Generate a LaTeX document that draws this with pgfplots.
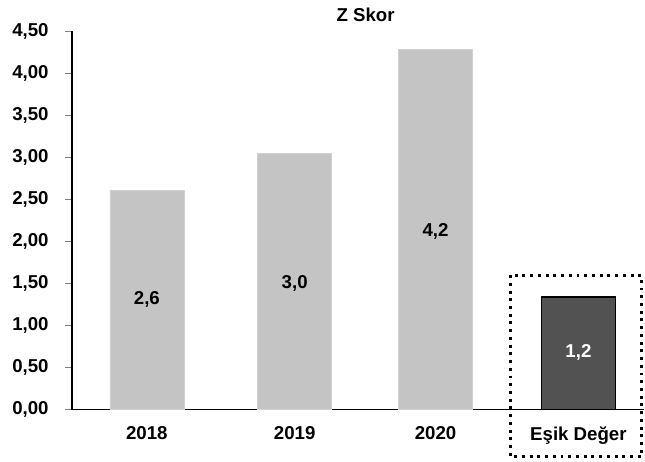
\documentclass[border=0pt]{standalone}
\usepackage{pgfplots}
\pgfplotsset{compat=1.18}
\usepackage{fontspec}
\setmainfont{Liberation Sans}
\newcommand{\lf}{\fontsize{14}{16}\selectfont\bfseries}
\begin{document}
\begin{tikzpicture}
\begin{axis}[
  scale only axis,
  width=429.75pt, height=284.25pt,
  xmin=72, xmax=645, ymin=0, ymax=4.5,
  axis x line=bottom, axis y line=left,
  axis line style={-, line width=1pt},
  clip=false,
  ytick={0,0.5,...,4.5},
  yticklabel style={font=\lf, xshift=-9pt, /pgf/number format/.cd, fixed, fixed zerofill, precision=2, use comma, assume math mode=true},
  ytick style={line width=0.8pt},
  major tick length=5pt,
  tick align=outside,
  xtick={147,295,436,579},
  xticklabels={2018,2019,2020,Eşik Değer},
  xticklabel style={font=\lf, yshift=-4pt},
  xtick style={draw=none},
  extra x ticks={221,367,508},
  extra x tick labels={},
  extra x tick style={tick style={draw=black, line width=0.8pt}, major tick length=4pt},
  ybar, bar width=55.5pt,
]
\path (axis cs:0,4.87) rectangle (axis cs:645,-0.618);
\addplot[fill=black!23, draw=black!18, bar shift=0pt] coordinates {(147,2.61) (295,3.05) (436,4.28)};
\addplot[fill=black!68, draw=black, bar shift=0pt, line width=1pt] coordinates {(579,1.34)};
\node[font=\lf] at (axis cs:147,1.31) {2,6};
\node[font=\lf] at (axis cs:295,1.50) {3,0};
\node[font=\lf] at (axis cs:436,2.12) {4,2};
\node[font=\lf, text=white] at (axis cs:579,0.68) {1,2};
\node[font=\lf] at (axis cs:366,4.69) {Z Skor};
\draw[line width=2.2pt, dash pattern=on 2.2pt off 3.6pt] (axis cs:511,1.60) rectangle (axis cs:642,-0.56);
\end{axis}
\end{tikzpicture}
\end{document}
